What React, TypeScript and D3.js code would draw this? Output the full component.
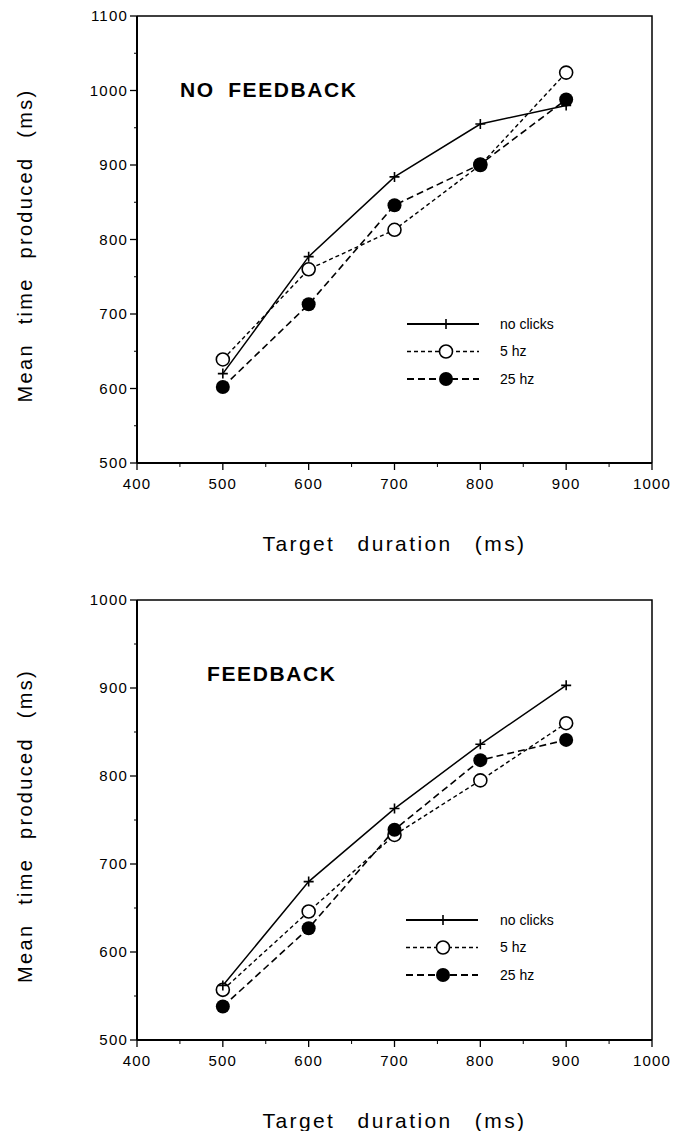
import React from "react";
import * as d3 from "d3";

// target durations (ms)
const durations = [500, 600, 700, 800, 900];

// NO FEEDBACK panel
const noFbNoClicks = [620, 777, 884, 955, 980];
const noFb5hz = [639, 760, 813, 900, 1024];
const noFb25hz = [602, 713, 846, 901, 988];

// FEEDBACK panel
const fbNoClicks = [562, 680, 763, 836, 903];
const fb5hz = [557, 646, 733, 795, 860];
const fb25hz = [538, 627, 739, 818, 841];

const xTicks = [400, 500, 600, 700, 800, 900, 1000];
const xMinor = [450, 550, 650, 750, 850, 950];
const yTicksTop = [500, 600, 700, 800, 900, 1000, 1100];
const yMinorTop = [550, 650, 750, 850, 950, 1050];
const yTicksBottom = [500, 600, 700, 800, 900, 1000];
const yMinorBottom = [550, 650, 750, 850, 950];

const legendLabels = ["no clicks", "5 hz", "25 hz"];

const FONT = "'Liberation Sans', Arial, Helvetica, sans-serif";

const W = 687, H = 1131;
const left = 137, right = 652;

type PanelProps = {
  title: string;
  titleX: number;
  top: number;
  bottom: number;
  yDomain: [number, number];
  yTicks: number[];
  yMinor: number[];
  series: number[][];
  legendX: number;
  legendY: number;
  legendMarkX: number;
};

const Plus = ({ x, y, s = 5 }: { x: number; y: number; s?: number }) => (
  <path d={`M${x - s},${y}H${x + s}M${x},${y - s}V${y + s}`} stroke="#000" strokeWidth={1.6} />
);

const Panel = (p: PanelProps) => {
  const x = d3.scaleLinear().domain([400, 1000]).range([left, right]);
  const y = d3.scaleLinear().domain(p.yDomain).range([p.bottom, p.top]);
  const line = d3
    .line<number>()
    .x((_, i) => x(durations[i]))
    .y((d) => y(d));

  const [noClicks, hz5, hz25] = p.series;
  const midX = (left + right) / 2;
  const midY = (p.top + p.bottom) / 2;

  return (
    <g fontFamily={FONT} fill="#000">
      {/* frame */}
      <path d={`M${left},${p.top}H${right}V${p.bottom}`} fill="none" stroke="#000" strokeWidth={1.5} />
      <line x1={left} x2={left} y1={p.top} y2={p.bottom} stroke="#000" strokeWidth={2} />
      <line x1={left} x2={right} y1={p.bottom} y2={p.bottom} stroke="#000" strokeWidth={2} />

      {/* y ticks */}
      {p.yTicks.map((t) => (
        <g key={"y" + t}>
          <line x1={left - 7} x2={left} y1={y(t)} y2={y(t)} stroke="#000" strokeWidth={1.3} />
          <text x={128} y={y(t)} dy="0.36em" textAnchor="end" fontSize={15} letterSpacing={1.2}>
            {t}
          </text>
        </g>
      ))}
      {p.yMinor.map((t) => (
        <line key={"ym" + t} x1={left - 3} x2={left} y1={y(t)} y2={y(t)} stroke="#000" strokeWidth={1} />
      ))}

      {/* x ticks */}
      {xTicks.map((t) => (
        <g key={"x" + t}>
          <line x1={x(t)} x2={x(t)} y1={p.bottom} y2={p.bottom + 7} stroke="#000" strokeWidth={1.3} />
          <text x={x(t)} y={p.bottom + 26} textAnchor="middle" fontSize={15} letterSpacing={1.2}>
            {t}
          </text>
        </g>
      ))}
      {xMinor.map((t) => (
        <line key={"xm" + t} x1={x(t)} x2={x(t)} y1={p.bottom} y2={p.bottom + 4} stroke="#000" strokeWidth={1} />
      ))}

      {/* axis titles */}
      <text
        x={midX}
        y={p.bottom + 88}
        textAnchor="middle"
        fontSize={21}
        letterSpacing={2.4}
        wordSpacing={14}
      >
        Target duration (ms)
      </text>
      <text
        transform={`translate(32,${midY + 6}) rotate(-90)`}
        textAnchor="middle"
        fontSize={20}
        letterSpacing={2.3}
        wordSpacing={11}
      >
        Mean time produced (ms)
      </text>

      {/* panel title */}
      <text x={p.titleX} y={p.top + 81} fontSize={21} fontWeight="bold" letterSpacing={1.6} wordSpacing={6}>
        {p.title}
      </text>

      {/* series lines */}
      <path d={line(hz5) || ""} fill="none" stroke="#000" strokeWidth={1.4} strokeDasharray="4,3" />
      <path d={line(hz25) || ""} fill="none" stroke="#000" strokeWidth={1.6} strokeDasharray="7,4" />
      <path d={line(noClicks) || ""} fill="none" stroke="#000" strokeWidth={1.5} />

      {/* markers */}
      {hz5.map((v, i) => (
        <circle key={"o" + i} cx={x(durations[i])} cy={y(v)} r={6.5} fill="#fff" stroke="#000" strokeWidth={1.6} />
      ))}
      {hz25.map((v, i) => (
        <circle key={"f" + i} cx={x(durations[i])} cy={y(v)} r={7} fill="#000" />
      ))}
      {noClicks.map((v, i) => (
        <Plus key={"p" + i} x={x(durations[i])} y={y(v)} />
      ))}

      {/* legend */}
      {legendLabels.map((lab, i) => {
        const ly = p.legendY + i * 27.5;
        return (
          <g key={lab}>
            <line
              x1={p.legendX}
              x2={p.legendX + 72}
              y1={ly}
              y2={ly}
              stroke="#000"
              strokeWidth={i === 0 ? 2.2 : i === 1 ? 1.4 : 1.8}
              strokeDasharray={i === 0 ? undefined : i === 1 ? "4,3" : "7,4"}
            />
            {i === 0 && <Plus x={p.legendMarkX} y={ly} />}
            {i === 1 && <circle cx={p.legendMarkX} cy={ly} r={6.5} fill="#fff" stroke="#000" strokeWidth={1.6} />}
            {i === 2 && <circle cx={p.legendMarkX} cy={ly} r={7} fill="#000" />}
            <text x={500} y={ly} dy="0.35em" fontSize={14}>
              {lab}
            </text>
          </g>
        );
      })}
    </g>
  );
};

export default function App() {
  return (
    <svg width={W} height={H} style={{ position: "absolute", left: 0, top: 0, background: "#fff" }}>
      <rect width={W} height={H} fill="#fff" />
      <Panel
        title="NO FEEDBACK"
        titleX={180}
        top={16}
        bottom={463}
        yDomain={[500, 1100]}
        yTicks={yTicksTop}
        yMinor={yMinorTop}
        series={[noFbNoClicks, noFb5hz, noFb25hz]}
        legendX={407}
        legendY={324}
        legendMarkX={446}
      />
      <Panel
        title="FEEDBACK"
        titleX={207}
        top={600}
        bottom={1040}
        yDomain={[500, 1000]}
        yTicks={yTicksBottom}
        yMinor={yMinorBottom}
        series={[fbNoClicks, fb5hz, fb25hz]}
        legendX={406}
        legendY={920}
        legendMarkX={443}
      />
    </svg>
  );
}
